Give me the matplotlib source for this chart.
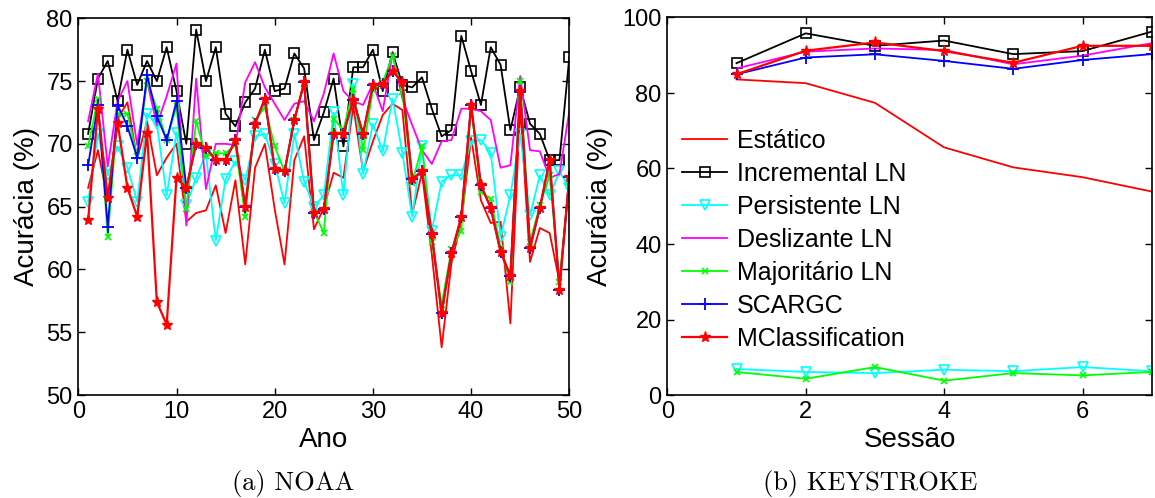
import matplotlib
matplotlib.use("Agg")
import matplotlib.pyplot as plt
import numpy as np

plt.rcParams['font.family'] = ['Liberation Sans', 'DejaVu Sans']

# ---------------- NOAA (per year) ----------------
anos = list(range(1, 51))
noaa_estatico = [66.5, 69.5, 65.5, 72.0, 73.3, 68.8, 71.8, 67.5, 68.9, 70.0,
                 63.8, 64.5, 64.7, 66.7, 62.9, 67.1, 60.4, 68.1, 70.0, 64.8,
                 60.4, 68.7, 70.6, 63.2, 64.9, 67.7, 67.3, 73.0, 67.8, 70.2,
                 72.3, 73.2, 72.7, 64.4, 67.7, 61.2, 53.8, 60.5, 63.8, 70.5,
                 65.5, 63.7, 63.8, 55.7, 73.0, 60.6, 63.3, 62.9, 59.0, 67.3]
noaa_incremental = [70.8, 75.2, 76.6, 73.4, 77.5, 74.7, 76.6, 75.0, 77.7, 74.2,
                    70.0, 79.1, 75.0, 77.7, 72.4, 71.4, 73.3, 74.4, 77.5, 74.2,
                    74.4, 77.2, 76.0, 70.3, 72.5, 75.2, 69.8, 76.1, 76.1, 77.5,
                    74.2, 77.3, 74.7, 74.5, 75.3, 72.8, 70.6, 71.1, 78.6, 75.8,
                    73.1, 77.7, 76.3, 71.1, 74.5, 71.6, 70.8, 68.7, 68.7, 76.9]
noaa_persistente = [65.4, 70.8, 67.5, 69.8, 68.1, 65.4, 72.4, 71.6, 65.9, 70.9,
                    65.1, 67.3, 69.2, 62.3, 67.2, 68.6, 67.1, 70.6, 70.8, 68.4,
                    65.3, 70.8, 67.0, 65.0, 65.9, 72.5, 65.9, 74.8, 67.6, 71.6,
                    69.4, 73.6, 69.3, 64.2, 69.8, 63.1, 67.0, 67.5, 67.5, 70.2,
                    70.3, 69.3, 62.6, 65.9, 70.8, 64.3, 67.5, 65.9, 67.8, 66.5]
noaa_deslizante = [71.8, 75.6, 68.2, 73.4, 75.0, 69.9, 75.0, 71.5, 73.8, 76.4,
                   63.5, 75.2, 66.4, 70.0, 70.0, 69.9, 74.9, 76.5, 74.5, 73.2,
                   71.9, 73.2, 73.4, 71.8, 74.0, 77.2, 74.2, 73.4, 73.1, 74.8,
                   72.6, 77.2, 73.6, 71.5, 69.5, 68.4, 70.2, 70.3, 72.8, 72.8,
                   72.6, 71.9, 68.1, 68.3, 75.4, 69.5, 69.4, 67.3, 67.6, 72.6]
noaa_majoritario = [69.8, 73.6, 62.6, 72.4, 72.4, 69.0, 75.0, 72.8, 70.3, 73.0,
                    64.8, 71.8, 69.0, 69.25, 69.25, 69.9, 64.2, 71.9, 72.9, 69.8,
                    67.8, 71.9, 74.8, 64.6, 62.9, 72.0, 71.1, 74.4, 69.5, 74.3,
                    74.9, 77.0, 74.1, 66.9, 69.8, 62.2, 57.2, 61.6, 63.1, 73.0,
                    66.2, 65.6, 61.7, 59.0, 75.0, 62.2, 65.1, 67.5, 59.0, 67.0]
noaa_scargc = [68.3, 73.1, 63.4, 73.1, 71.4, 68.9, 75.5, 72.2, 70.3, 73.4,
               66.5, 70.0, 69.7, 68.7, 68.7, 70.3, 65.0, 71.6, 73.6, 68.0,
               67.8, 71.9, 74.9, 64.5, 64.8, 70.8, 70.8, 73.5, 70.8, 74.7,
               74.8, 75.8, 74.9, 67.2, 67.8, 62.8, 56.5, 61.3, 64.2, 73.1,
               66.7, 64.9, 61.4, 59.5, 74.2, 61.7, 64.9, 68.7, 58.4, 67.4]
noaa_mclass = [63.9, 72.8, 65.7, 71.7, 66.5, 64.2, 70.9, 57.4, 55.6, 67.3,
               66.5, 70.0, 69.7, 68.7, 68.7, 70.3, 65.0, 71.6, 73.6, 68.0,
               67.8, 71.9, 74.9, 64.5, 64.8, 70.8, 70.8, 73.5, 70.8, 74.7,
               74.8, 75.8, 74.9, 67.2, 67.8, 62.8, 56.5, 61.3, 64.2, 73.1,
               66.7, 64.9, 61.4, 59.5, 74.2, 61.7, 64.9, 68.7, 58.4, 67.4]

# ---------------- KEYSTROKE (per session) ----------------
sessoes = [1, 2, 3, 4, 5, 6, 7]
ks_estatico = [83.6, 82.6, 77.4, 65.6, 60.3, 57.7, 53.9]
ks_incremental = [87.9, 95.8, 92.5, 93.9, 90.3, 91.1, 96.25]
ks_persistente = [6.9, 6.1, 5.8, 6.7, 6.3, 7.4, 6.3]
ks_deslizante = [86.5, 90.95, 91.8, 91.4, 87.6, 89.9, 93.2]
ks_majoritario = [6.1, 4.3, 7.4, 3.8, 5.8, 5.2, 6.1]
ks_scargc = [84.95, 89.4, 90.25, 88.5, 86.4, 88.75, 90.3]
ks_mclass = [84.95, 91.2, 93.4, 91.1, 88.0, 92.5, 92.5]

rotulos = ['Estático', 'Incremental LN', 'Persistente LN', 'Deslizante LN',
           'Majoritário LN', 'SCARGC', 'MClassification']

estilos = [
    dict(color='#ff0000', lw=1.3),
    dict(color='black', lw=1.3, marker='s', ms=7, mfc='none', mew=1.2),
    dict(color='#00ffff', lw=1.3, marker='v', ms=7, mfc='none', mew=1.2),
    dict(color='#ff00ff', lw=1.3),
    dict(color='#00ff00', lw=1.3, marker='x', ms=5, mew=1.2),
    dict(color='#0000ff', lw=1.3, marker='+', ms=8, mew=1.3),
    dict(color='#ff0000', lw=1.6, marker='*', ms=8, mfc='#ff0000', mew=1.0),
]

fig = plt.figure(figsize=(11.55, 4.98), dpi=100)
ax1 = fig.add_axes([78.3 / 1155, 103 / 498, 491 / 1155, 376.7 / 498])
ax2 = fig.add_axes([667.3 / 1155, 103 / 498, 484.4 / 1155, 377.5 / 498])

noaa = [noaa_estatico, noaa_incremental, noaa_persistente, noaa_deslizante,
        noaa_majoritario, noaa_scargc, noaa_mclass]
ks = [ks_estatico, ks_incremental, ks_persistente, ks_deslizante,
      ks_majoritario, ks_scargc, ks_mclass]

for serie, st in zip(noaa, estilos):
    ax1.plot(anos, serie, **st)
for serie, st, lab in zip(ks, estilos, rotulos):
    ax2.plot(sessoes, serie, label=lab, **st)

ax1.set_xlim(0, 50)
ax1.set_ylim(50, 80)
ax1.set_xticks([0, 10, 20, 30, 40, 50])
ax1.set_yticks([50, 55, 60, 65, 70, 75, 80])

ax2.set_xlim(0, 7)
ax2.set_ylim(0, 100)
ax2.set_xticks([0, 2, 4, 6])
ax2.set_yticks([0, 20, 40, 60, 80, 100])

for ax in (ax1, ax2):
    ax.tick_params(direction='in', top=True, right=True, length=5,
                   width=1.0, labelsize=17, pad=4)
    for sp in ax.spines.values():
        sp.set_linewidth(1.2)

ax1.set_xlabel('Ano', fontsize=20)
ax1.set_ylabel('Acurácia (%)', fontsize=20)
ax2.set_xlabel('Sessão', fontsize=20)
ax2.set_ylabel('Acurácia (%)', fontsize=20)
ax1.xaxis.set_label_coords(0.5, -0.085)
ax2.xaxis.set_label_coords(0.5, -0.085)
ax1.yaxis.set_label_coords(-0.078, 0.5)
ax2.yaxis.set_label_coords(-0.113, 0.5)

ax2.legend(loc='upper left', bbox_to_anchor=(0.0, 0.745), frameon=False,
           fontsize=18, handlelength=1.8, labelspacing=0.36,
           handletextpad=0.4, borderaxespad=0.2)

fig.text(293 / 1155, 1 - 483 / 498, '(a) NOAA', family='cmr10', fontsize=19,
         ha='center', va='center')
fig.text(870 / 1155, 1 - 483 / 498, '(b) KEYSTROKE', family='cmr10',
         fontsize=19, ha='center', va='center')

fig.savefig('out.png', dpi=100)
